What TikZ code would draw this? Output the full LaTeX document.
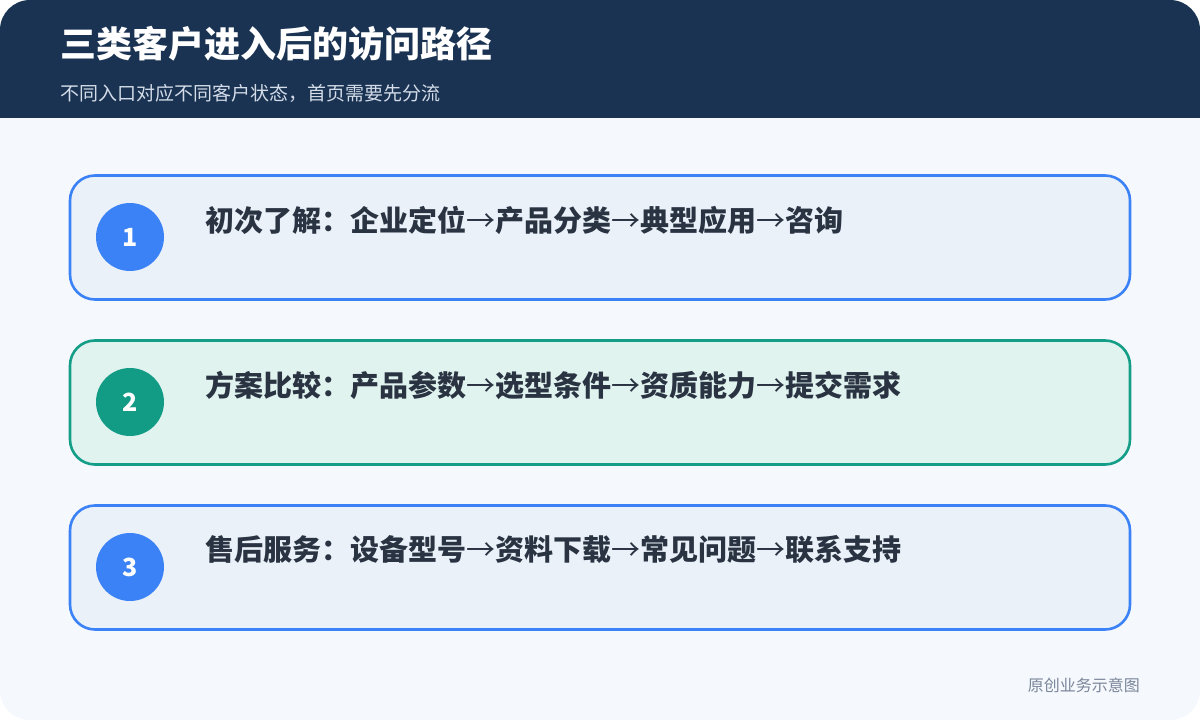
\documentclass[tikz,border=0pt]{standalone}
\usepackage{fontspec}
\setmainfont{Noto Sans CJK SC}
\newcommand\myarr{{\mdseries →}}
\definecolor{hdr}{HTML}{1A3352}
\definecolor{bgc}{HTML}{F5F8FC}
\definecolor{blueb}{HTML}{3B82F6}
\definecolor{bluef}{HTML}{EAF1F9}
\definecolor{tealb}{HTML}{149E88}
\definecolor{tealc}{HTML}{129C86}
\definecolor{tealf}{HTML}{E0F3EF}
\definecolor{txt}{HTML}{2A3342}
\definecolor{subt}{HTML}{D3DCE8}
\definecolor{foot}{HTML}{7A869A}
\tikzset{
  card/.style={draw=#1, line width=2.6pt, rounded corners=25pt},
  badge/.style={circle, fill=#1, minimum size=68pt, inner sep=0pt, text=white, font=\fontsize{25}{28}\selectfont\bfseries},
  cardtext/.style={anchor=west, text=txt, inner sep=0pt, font=\fontsize{29}{33}\selectfont\bfseries},
}
\begin{document}
\begin{tikzpicture}[x=1pt,y=-1pt]
\useasboundingbox (0,0) rectangle (1200,720);
\fill[white] (0,0) rectangle (1200,720);
\begin{scope}
\clip[rounded corners=30pt] (0,0) rectangle (1200,720);
\fill[bgc] (0,0) rectangle (1200,720);
\fill[hdr] (0,0) rectangle (1200,118);
\end{scope}
\node[anchor=west, text=white, inner sep=0pt, font=\fontsize{36}{42}\selectfont\bfseries] (title) at (60,44) {三类客户进入后的访问路径};
\node[anchor=west, text=subt, inner sep=0pt, font=\fontsize{19}{23}\selectfont] (sub) at (60,93) {不同入口对应不同客户状态，首页需要先分流};
% card 1
\filldraw[card=blueb, fill=bluef] (70,175.5) rectangle (1130,299.5);
\node[badge=blueb] (b1) at (130,237) {1};
\node[cardtext] (t1) at (205,220) {初次了解：企业定位\myarr 产品分类\myarr 典型应用\myarr 咨询};
% card 2
\filldraw[card=tealb, fill=tealf] (70,340.5) rectangle (1130,464.5);
\node[badge=tealc] (b2) at (130,402) {2};
\node[cardtext] (t2) at (205,385) {方案比较：产品参数\myarr 选型条件\myarr 资质能力\myarr 提交需求};
% card 3
\filldraw[card=blueb, fill=bluef] (70,505.5) rectangle (1130,629.5);
\node[badge=blueb] (b3) at (130,567) {3};
\node[cardtext] (t3) at (205,550) {售后服务：设备型号\myarr 资料下载\myarr 常见问题\myarr 联系支持};
\node[anchor=east, text=foot, inner sep=0pt, font=\fontsize{16}{20}\selectfont] (ft) at (1140,685) {原创业务示意图};
\end{tikzpicture}
\end{document}
